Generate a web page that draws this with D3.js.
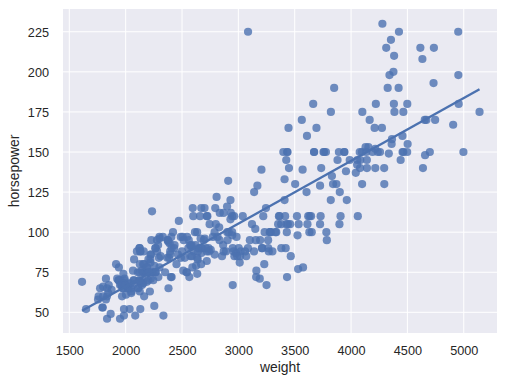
<!DOCTYPE html>
<html>
<head>
<meta charset="utf-8">
<script src="https://cdn.jsdelivr.net/npm/d3@7"></script>
<style>
html,body{margin:0;padding:0;background:#fff;}
svg{display:block;}
text{font-family:"Liberation Sans",Arial,sans-serif;fill:#262626;}
</style>
</head>
<body>
<svg id="chart" width="507" height="385"></svg>
<script>
// car weight (lbs) for each car
const weight = [3504,3693,3436,3433,3449,4341,4354,4312,4425,3850,3563,3609,3761,3086,2372,2833,2774,2587,2130,1835,
2672,2430,2375,2234,2648,4615,4376,4382,4732,2130,2264,2228,2634,3439,3329,3302,3288,4209,4464,4154,
4096,4955,4746,5140,2962,2408,3282,3139,2220,2123,2074,2065,1773,1613,1834,1955,2278,2126,2254,2408,
2226,4274,4385,4135,4129,3672,4633,4502,4456,4422,2330,3892,4098,4294,4077,2933,2511,2979,2189,2395,
2288,2506,2164,2100,4100,3672,3988,4042,3777,4952,4464,4363,4237,4735,4951,3821,3121,3278,2945,3021,
2904,1950,4997,4906,4654,4499,2789,2279,2401,2379,2124,2310,2472,2265,4082,4278,1867,2158,2582,2868,
3399,2660,2807,3664,3102,2901,3336,1950,2451,1836,2542,3781,3632,3613,4141,4699,4457,4638,4257,2219,
1963,2300,1649,2003,2125,2108,2246,2489,2391,2000,3264,3459,3432,3158,4668,4440,4498,4657,3907,3897,
3730,3785,3039,3221,3169,2171,2639,2914,2592,2702,2223,2545,2984,1937,3211,2694,2957,2945,2671,1795,
2464,2220,2572,2255,2202,4215,4190,3962,4215,3233,3353,3012,3085,2035,2164,1937,1795,3651,3574,3645,
3193,1825,1990,2155,2565,3150,3940,3270,2930,3820,4380,4055,3870,3755,2045,2155,1825,2300,1945,3880,
4060,4140,4295,3520,3425,3630,3525,4220,4165,4325,4335,1940,2740,2265,2755,2051,2075,1985,2190,2815,
2600,2720,1985,1800,1985,2070,1800,3365,3735,3570,3535,3155,2965,2720,3430,3210,3380,3070,3620,3410,
3425,3445,3205,4080,2155,2560,2300,2230,2515,2745,2855,2405,2830,3140,2795,3410,1990,2135,3245,2990,
2890,3265,3360,3840,3725,3955,3830,4360,4054,3605,3940,1925,1975,1915,2670,3530,3900,3190,3420,2200,
2150,2020,2130,2670,2595,2700,2556,2144,1968,2120,2019,2678,2870,3003,3381,2188,2711,2542,2434,2265,
2110,2800,2110,2085,2335,2950,3250,1850,2145,1845,2910,2420,2500,2290,2490,2635,2620,2725,2385,1755,
1875,1760,2065,1975,2050,1985,2215,2045,2380,2190,2210,2350,2615,2635,3230,3160,2900,2930,3415,3725,
3060,3465,2605,2640,2395,2575,2525,2735,2865,1980,2025,1970,2125,2125,2160,2205,2245,1965,1965,1995,
2945,3015,2585,2835,2665,2370,2950,2790,2130,2295,2625,2720];

// horsepower for each car (same order)
const horsepower = [130,165,150,150,140,198,220,215,225,190,170,160,150,225,95,95,97,85,88,46,
87,90,95,113,90,215,200,210,193,88,90,95,100,105,100,88,100,165,175,153,
150,180,170,175,110,72,100,88,86,90,70,76,65,69,60,70,95,80,54,90,
86,165,175,150,153,150,208,155,160,190,97,150,130,140,150,112,76,87,69,86,
92,97,80,88,175,150,145,137,150,198,150,158,150,215,225,175,105,100,100,88,
95,46,150,167,170,180,100,88,72,94,90,85,107,90,145,230,49,75,91,112,
150,110,122,180,95,100,100,67,80,65,75,100,110,105,140,150,150,140,150,83,
67,78,52,61,75,75,75,97,93,67,95,105,72,72,170,145,150,148,110,105,
110,95,110,110,129,75,83,100,78,96,71,97,97,70,90,95,88,98,115,53,
86,81,92,79,83,140,150,120,152,100,105,81,90,52,60,70,53,100,78,110,
95,71,70,75,72,102,150,88,108,120,180,145,130,150,68,80,58,96,70,145,
110,145,130,110,105,100,98,180,170,190,149,78,88,75,89,63,83,67,78,97,
110,110,48,66,52,70,60,110,140,139,105,95,85,88,100,90,105,85,110,120,
145,165,139,140,68,95,97,75,95,105,85,97,103,125,115,133,71,68,115,85,
88,90,110,130,129,138,135,155,142,125,150,71,65,80,80,77,125,71,90,70,
70,65,69,90,115,115,90,76,60,70,65,90,88,90,90,78,90,75,92,75,
65,105,65,48,48,67,67,67,67,62,132,100,88,72,84,84,92,110,84,58,
64,60,67,65,62,68,63,65,65,74,75,75,100,74,80,76,116,120,110,105,
88,85,88,88,88,85,84,90,92,74,68,68,63,70,88,75,70,67,67,67,
110,85,92,112,96,84,90,86,52,84,79,82];

const xTicks = [1500,2000,2500,3000,3500,4000,4500,5000];
const yTicks = [50,75,100,125,150,175,200,225];
const xLabel = "weight";
const yLabel = "horsepower";

const svg = d3.select("#chart");
const L = 63, R = 497, T = 9, B = 333;
const blue = "#4C72B0";

const x = d3.scaleLinear().domain([1444, 5295]).range([L, R]);
const y = d3.scaleLinear().domain([37.1, 239.2]).range([B, T]);

svg.append("rect").attr("x", L).attr("y", T).attr("width", R - L).attr("height", B - T).attr("fill", "#EAEAF2");

// grid
svg.append("g").selectAll("line").data(xTicks).join("line")
  .attr("x1", d => x(d)).attr("x2", d => x(d)).attr("y1", T).attr("y2", B)
  .attr("stroke", "#fff").attr("stroke-width", 1);
svg.append("g").selectAll("line").data(yTicks).join("line")
  .attr("y1", d => y(d)).attr("y2", d => y(d)).attr("x1", L).attr("x2", R)
  .attr("stroke", "#fff").attr("stroke-width", 1);

// axes (labels only, seaborn darkgrid has no tick marks/spines)
const xAxis = d3.axisBottom(x).tickValues(xTicks).tickSize(0).tickPadding(0).tickFormat(d3.format("d"));
const gx = svg.append("g").attr("transform", `translate(0,${B})`).call(xAxis);
gx.select(".domain").remove();
gx.selectAll("text").attr("y", 22).attr("dy", null).style("font-size", "12.7px").style("fill", "#262626");

const yAxis = d3.axisLeft(y).tickValues(yTicks).tickSize(0).tickPadding(0).tickFormat(d3.format("d"));
const gy = svg.append("g").attr("transform", `translate(${L},0)`).call(yAxis);
gy.select(".domain").remove();
gy.selectAll("text").attr("x", -14).attr("dy", "0.35em").style("font-size", "12.7px").style("fill", "#262626");

svg.append("text").attr("x", (L + R) / 2).attr("y", 372).attr("text-anchor", "middle")
  .style("font-size", "13.9px").text(xLabel);
svg.append("text").attr("transform", `translate(19,${(T + B) / 2}) rotate(-90)`).attr("text-anchor", "middle")
  .style("font-size", "13.9px").text(yLabel);

// clip
svg.append("clipPath").attr("id", "clip").append("rect")
  .attr("x", L).attr("y", T).attr("width", R - L).attr("height", B - T);
const plot = svg.append("g").attr("clip-path", "url(#clip)");

// scatter
const pts = weight.map((w, i) => ({w, h: horsepower[i]}));
plot.append("g").selectAll("circle").data(pts).join("circle")
  .attr("cx", d => x(d.w)).attr("cy", d => y(d.h)).attr("r", 4.1)
  .attr("fill", blue).attr("fill-opacity", 0.8);

// regression fit (ordinary least squares)
const mx = d3.mean(pts, d => d.w), my = d3.mean(pts, d => d.h);
const sxx = d3.sum(pts, d => (d.w - mx) ** 2);
const sxy = d3.sum(pts, d => (d.w - mx) * (d.h - my));
const slope = sxy / sxx, icpt = my - slope * mx;
const [xmin, xmax] = d3.extent(weight);
const fit = [xmin, xmax].map(g => ({g, yh: icpt + slope * g}));
plot.append("path").datum(fit)
  .attr("d", d3.line().x(d => x(d.g)).y(d => y(d.yh)))
  .attr("fill", "none").attr("stroke", blue).attr("stroke-width", 2.4);
</script>
</body>
</html>
